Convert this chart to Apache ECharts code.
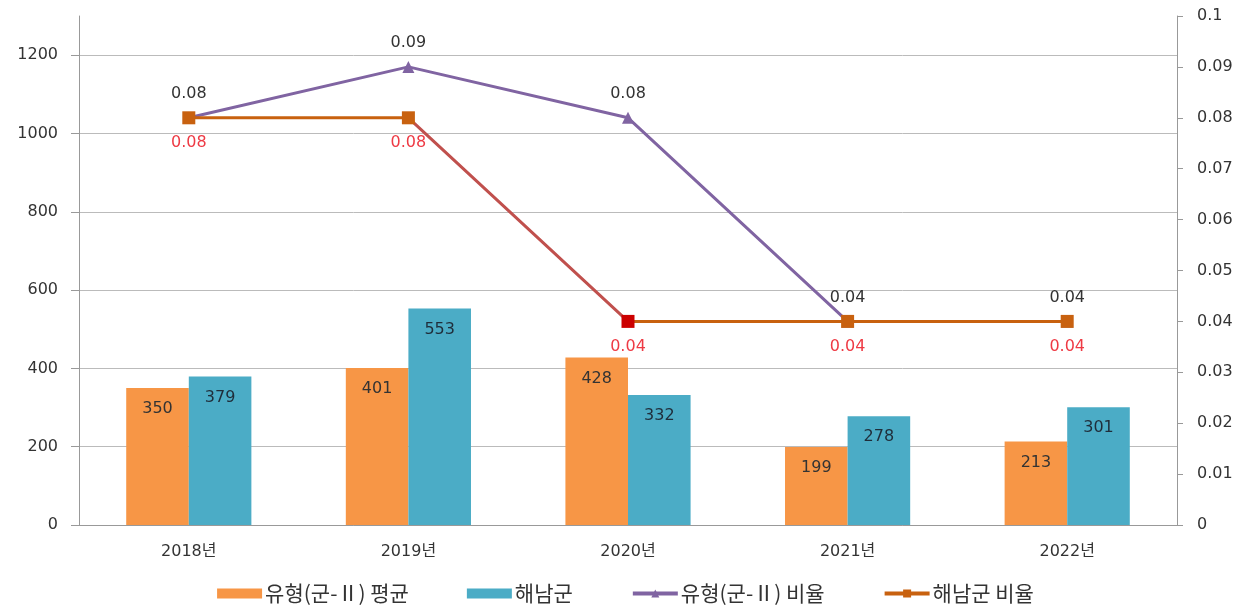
<!DOCTYPE html>
<html><head><meta charset="utf-8">
<script src="https://cdn.jsdelivr.net/npm/echarts@6/dist/echarts.min.js"></script>
<style>html,body{margin:0;padding:0;background:#fff}#c{width:1251px;height:607px}</style>
</head><body><div id="c"></div>
<script>
const categories = ['2018년','2019년','2020년','2021년','2022년'];
const typeAvg = [350, 401, 428, 199, 213];
const haenam = [379, 553, 332, 278, 301];
const typeRatio = [0.08, 0.09, 0.08, 0.04, 0.04];
const haenamRatio = [0.08, 0.08, 0.04, 0.04, 0.04];
const seriesNames = ['유형(군-Ⅱ) 평균', '해남군', '유형(군-Ⅱ) 비율', '해남군 비율'];

const FONT = "'DejaVu Sans', 'Noto Sans CJK KR', sans-serif";
const chart = echarts.init(document.getElementById('c'));
chart.setOption({
  animation: false,
  textStyle: { fontFamily: FONT },
  grid: { left: 79, right: 74, top: 16, bottom: 82, containLabel: false },
  legend: {
    bottom: -2, left: 'center', itemGap: 58,
    textStyle: { fontSize: 21, color: '#333', fontFamily: "'Noto Sans CJK KR', sans-serif", padding: [0, 0, 0, -2] },
    data: [
      { name: seriesNames[0], icon: 'rect', itemStyle: { color: '#f79646' } },
      { name: seriesNames[1], icon: 'rect', itemStyle: { color: '#4bacc6' } },
      { name: seriesNames[2], lineStyle: { width: 4 } },
      { name: seriesNames[3], lineStyle: { width: 4 } }
    ],
    itemWidth: 45, itemHeight: 10
  },
  xAxis: {
    type: 'category', data: categories,
    axisLine: { lineStyle: { color: '#999' } },
    axisTick: { lineStyle: { color: '#999' }, length: 6 },
    axisLabel: { color: '#333', fontSize: 16, margin: 19 }
  },
  yAxis: [
    {
      type: 'value', min: 0, max: 1300, interval: 200,
      axisLine: { show: true, lineStyle: { color: '#999' } },
      axisTick: { show: true, length: 8, lineStyle: { color: '#999' } },
      axisLabel: { color: '#333', fontSize: 16, margin: 21, showMaxLabel: false, formatter: v => String(v) },
      splitLine: { show: true, showMaxLine: false, lineStyle: { color: '#bbb' } }
    },
    {
      type: 'value', min: 0, max: 0.1, interval: 0.01,
      axisLine: { show: true, lineStyle: { color: '#999' } },
      axisTick: { show: true, length: 6, lineStyle: { color: '#999' } },
      axisLabel: { color: '#333', fontSize: 16, margin: 20 },
      splitLine: { show: false }
    }
  ],
  visualMap: {
    show: false, type: 'piecewise', seriesIndex: 3, dimension: 0,
    pieces: [
      { lte: 1, color: '#c8610f' },
      { gt: 1, lte: 2, color: '#c0504d' },
      { gt: 2, color: '#c8610f' }
    ]
  },
  series: [
    {
      name: seriesNames[0], type: 'bar', data: typeAvg, barGap: '0%', barCategoryGap: '43%',
      itemStyle: { color: '#f79646' },
      label: { show: true, position: 'insideTop', distance: 13, color: '#333', fontSize: 16 }
    },
    {
      name: seriesNames[1], type: 'bar', data: haenam,
      itemStyle: { color: '#4bacc6' },
      label: { show: true, position: 'insideTop', distance: 13, color: '#1f2d3a', fontSize: 16 }
    },
    {
      name: seriesNames[2], type: 'line', yAxisIndex: 1, data: typeRatio,
      symbol: 'triangle', symbolSize: 12,
      lineStyle: { color: '#8064a2', width: 3 },
      itemStyle: { color: '#8064a2' },
      label: { show: true, position: 'top', distance: 10, color: '#333', fontSize: 16 }
    },
    {
      name: seriesNames[3], type: 'line', yAxisIndex: 1,
      data: haenamRatio.map((v, i) => i === 2 ? { value: v, itemStyle: { color: '#cc0000' } } : v),
      symbol: 'rect', symbolSize: 13,
      lineStyle: { width: 3 },
      itemStyle: { color: '#c8610f' },
      label: { show: true, position: 'bottom', distance: 11, color: '#ee3a44', fontSize: 16 }
    }
  ]
});
</script></body></html>
